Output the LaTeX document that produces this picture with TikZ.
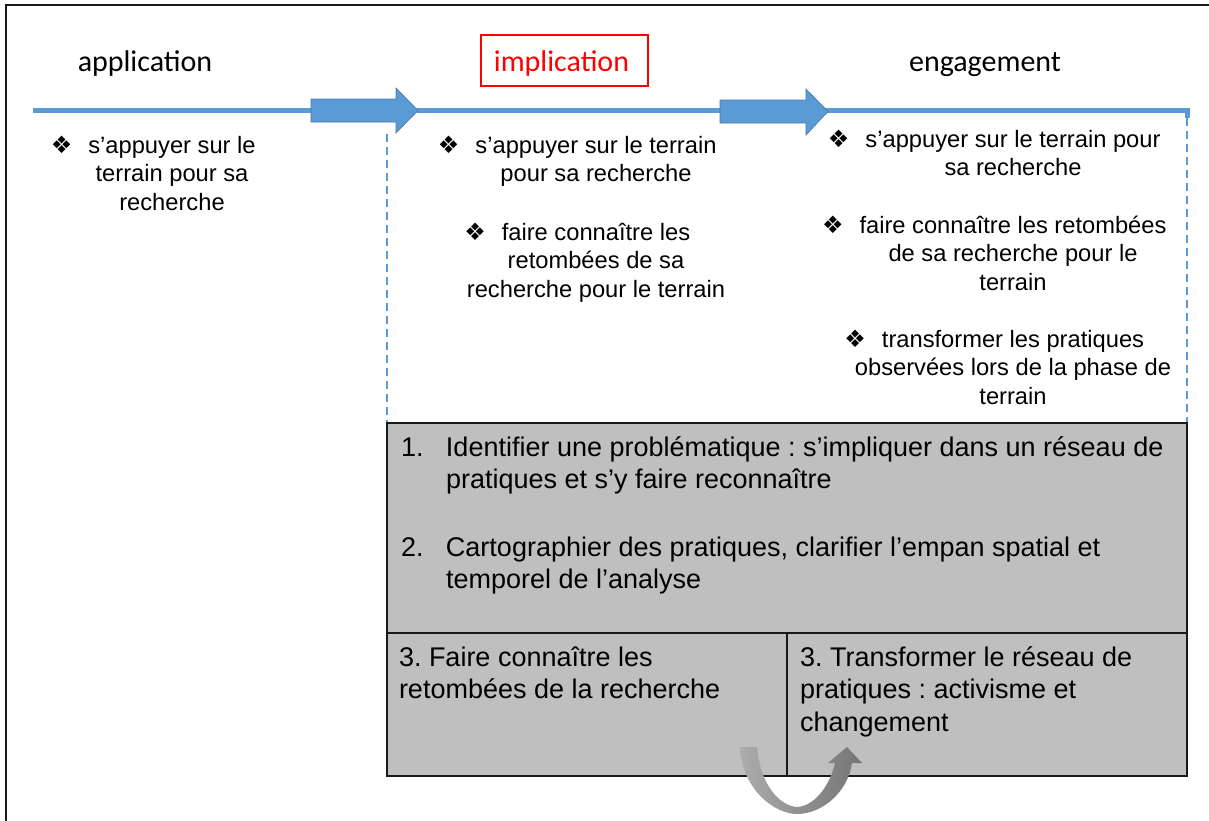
\documentclass[tikz,border=0pt]{standalone}
\usepackage{fontspec}
\setmainfont{Liberation Sans}
\newfontfamily\calib{Carlito}
\newfontfamily\symf{DejaVu Sans}
\definecolor{lineblue}{RGB}{91,155,213}
\definecolor{arrowedge}{RGB}{70,120,165}
\definecolor{boxgray}{RGB}{191,191,191}
\definecolor{frameblack}{RGB}{25,25,25}
\definecolor{curvelight}{RGB}{172,172,172}
\definecolor{curvedark}{RGB}{118,116,116}
\definecolor{implred}{RGB}{255,0,0}
\newcommand\bul{\llap{{\symf\fontsize{24}{24}\selectfont ❖}\hspace{16pt}}}
\frenchspacing
\begin{document}
\begin{tikzpicture}[x=1pt,y=-1pt,
  every node/.style={inner sep=0pt, outer sep=0pt},
  btext/.style={anchor=base, font=\fontsize{23.7}{28.5}\selectfont},
  boxtext/.style={anchor=base west, font=\fontsize{27}{32.5}\selectfont},
  headtext/.style={anchor=base, font=\calib\fontsize{30}{34}\selectfont},
  blockarrow/.style={fill=lineblue, draw=arrowedge, line width=0.6pt},
  dashblue/.style={draw=lineblue, line width=2pt, dash pattern=on 8pt off 5pt}]
\useasboundingbox (0,0) rectangle (1209,820);
% outer frame
\draw[frameblack, line width=2.5pt] (6,830) -- (6,5) -- (1220,5);
% dashed verticals
\draw[dashblue] (387,134) -- (387,423);
\draw[dashblue] (1187,118) -- (1187,423);
% timeline
\draw[lineblue, line width=5pt] (33,110) -- (1187,110) -- (1187,118);
% block arrows
\filldraw[blockarrow] (311,99) -- (396,99) -- (396,88) -- (418,110.5) -- (396,133) -- (396,122) -- (311,122) -- cycle;
\filldraw[blockarrow] (720,100) -- (806,100) -- (806,89) -- (828,111.5) -- (806,135) -- (806,123) -- (720,123) -- cycle;
% headers
\node[headtext] (happ) at (145,71) {application};
\node[headtext, text=implred] (himp) at (561.5,71) {implication};
\draw[implred, line width=1.2pt] (481,35) rectangle (648,86);
\node[headtext] (heng) at (985,71) {engagement};
% bullet texts
\node[btext] (a1) at (172,153) {\begin{tabular}[t]{@{}c@{}}\bul s’appuyer sur le\\terrain pour sa\\recherche\end{tabular}};
\node[btext] (b1) at (596,153) {\begin{tabular}[t]{@{}c@{}}\bul s’appuyer sur le terrain\\pour sa recherche\end{tabular}};
\node[btext] (b2) at (596,240) {\begin{tabular}[t]{@{}c@{}}\bul faire connaître les\\retombées de sa\\recherche pour le terrain\end{tabular}};
\node[btext] (c1) at (1013,147) {\begin{tabular}[t]{@{}c@{}}\bul s’appuyer sur le terrain pour\\sa recherche\end{tabular}};
\node[btext] (c2) at (1013,233) {\begin{tabular}[t]{@{}c@{}}\bul faire connaître les retombées\\de sa recherche pour le\\terrain\end{tabular}};
\node[btext] (c3) at (1013,347) {\begin{tabular}[t]{@{}c@{}}\bul transformer les pratiques\\observées lors de la phase de\\terrain\end{tabular}};
% gray box
\filldraw[fill=boxgray, draw=frameblack, line width=1.3pt] (387,423) rectangle (1187,776);
\draw[frameblack, line width=1.3pt] (387,633) -- (1187,633);
\draw[frameblack, line width=1.3pt] (787,633) -- (787,776);
\node[boxtext] (s1) at (446,456) {\begin{tabular}[t]{@{}l@{}}\llap{\makebox[45pt][l]{1.}}Identifier une problématique : s’impliquer dans un réseau de\\pratiques et s’y faire reconnaître\end{tabular}};
\node[boxtext] (s2) at (446,556) {\begin{tabular}[t]{@{}l@{}}\llap{\makebox[45pt][l]{2.}}Cartographier des pratiques, clarifier l’empan spatial et\\temporel de l’analyse\end{tabular}};
\node[boxtext] (s3) at (399,666) {\begin{tabular}[t]{@{}l@{}}3. Faire connaître les\\retombées de la recherche\end{tabular}};
\node[boxtext] (s4) at (800,666) {\begin{tabular}[t]{@{}l@{}}3. Transformer le réseau de\\pratiques : activisme et\\changement\end{tabular}};
% curved arrow
\shade[left color=curvelight, right color=curvedark]
  (740,747) .. controls (742,790) and (775,814) .. (797,814)
  .. controls (822,814) and (848,792) .. (852,763)
  -- (862,763) -- (847,747) -- (828,763) -- (835,763)
  .. controls (830,785) and (815,806) .. (797,807)
  .. controls (780,806) and (760,785) .. (757,747) -- cycle;
\end{tikzpicture}
\end{document}
